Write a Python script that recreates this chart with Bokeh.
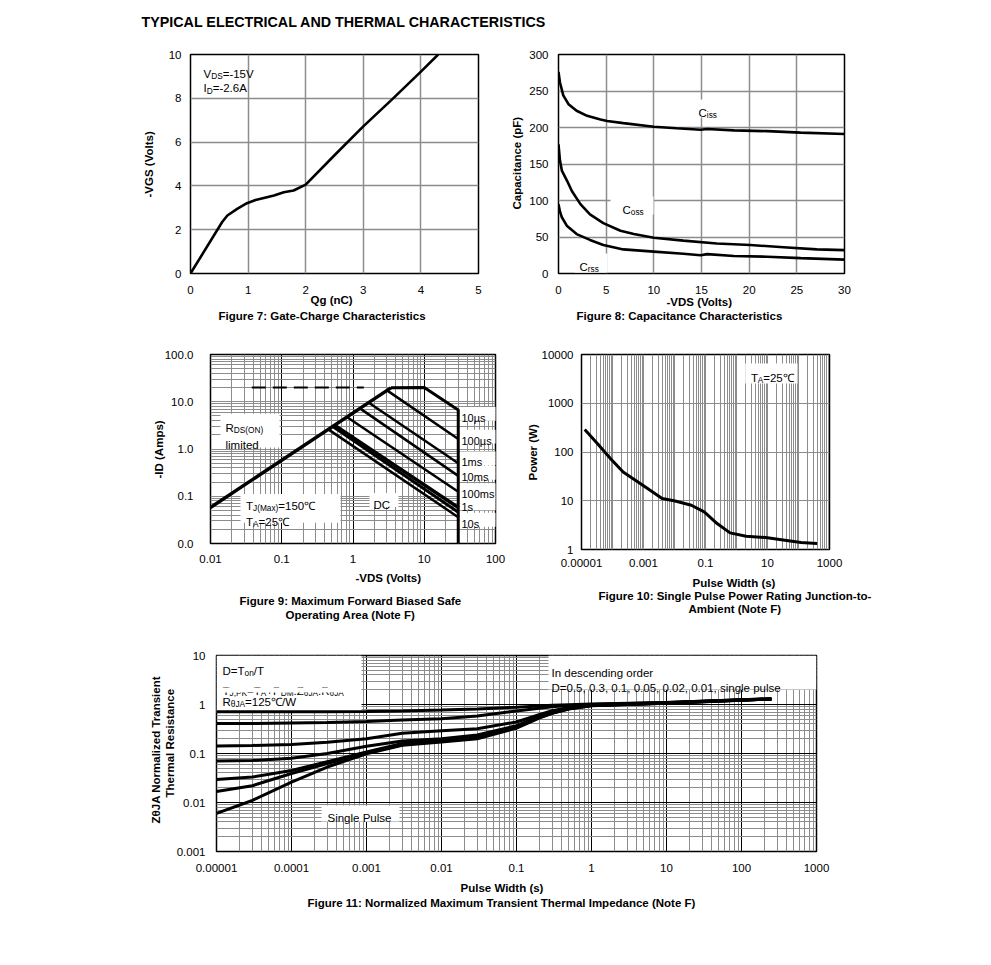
import math
from bokeh.plotting import figure
from bokeh.models import Label, BoxAnnotation, FixedTicker, Range1d, Title
from bokeh.layouts import column, row
from bokeh.embed import file_html
from bokeh.resources import INLINE

FONT = "Liberation Sans"
BASE = 11.5

# ---------------- data ----------------
# Figure 7: gate charge
fig7_qg = [0, 0.55, 0.64, 0.81, 0.98, 1.13, 1.45, 1.62, 1.79, 2.0, 2.5, 3.0, 3.5, 4.0, 4.3]
fig7_vgs = [0, 2.35, 2.65, 2.95, 3.21, 3.36, 3.56, 3.71, 3.79, 4.06, 5.4, 6.72, 7.95, 9.22, 10.0]
fig7_xticks = [0, 1, 2, 3, 4, 5]
fig7_yticks = [0, 2, 4, 6, 8, 10]

# Figure 8: capacitance
ciss_v = [0, 0.15, 0.5, 1.05, 1.9, 3.0, 4.4, 5.1, 6.8, 10, 12.4, 14.9, 15.6, 18.4, 21.9, 25.4, 30]
ciss_c = [276, 262, 244, 232, 223, 216, 211, 209, 206, 201, 199, 197, 198, 196, 195, 193, 191]
coss_v = [0, 0.15, 0.35, 0.9, 1.4, 2.3, 3.3, 4.7, 6.5, 7.9, 10, 13.1, 16.6, 20.1, 23.6, 27.1, 30]
coss_c = [177, 155, 141, 127, 113, 95, 81, 69, 58.5, 54, 49, 45, 41, 39, 36, 33, 32]
crss_v = [0, 0.15, 0.35, 0.9, 1.9, 3.3, 4.7, 6.8, 10, 13.1, 14.9, 15.6, 18.4, 21.9, 25.4, 30]
crss_c = [95, 85, 77, 65, 54, 46, 39, 33, 30, 27, 25, 26.5, 24, 23, 21, 19]
fig8_xticks = [0, 5, 10, 15, 20, 25, 30]
fig8_yticks = [0, 50, 100, 150, 200, 250, 300]

# Figure 9: safe operating area
rds_v = [0.01, 3.4]
rds_i = [0.058, 19.7]
dash_v = [0.038, 1.42]
dash_i = [20, 20]
env_v = [3.4, 10, 30, 30]
env_i = [19.7, 20, 6.7, 0.01]
soa_names = ["100µs", "1ms", "10ms", "100ms", "1s", "10s", "DC"]
soa_v0 = [3.0, 1.65, 1.25, 0.82, 0.55, 0.52, 0.45]
soa_i0 = [17.4, 9.6, 7.25, 4.75, 3.2, 3.0, 2.6]
soa_v1 = [30, 30, 30, 30, 30, 30, 30]
soa_i1 = [1.63, 0.5, 0.27, 0.125, 0.058, 0.046, 0.036]
soa_w = [2.5, 2.5, 2.5, 2.5, 3.5, 3.0, 2.5]
fig9_right_labels = ["10µs", "100µs", "1ms", "10ms", "100ms", "1s", "10s"]
fig9_xlabels = {0.01: "0.01", 0.1: "0.1", 1.0: "1", 10.0: "10", 100.0: "100"}
fig9_ylabels = {0.01: "0.0", 0.1: "0.1", 1.0: "1.0", 10.0: "10.0", 100.0: "100.0"}

# Figure 10: single pulse power
pw_t = [1.27e-5, 3.3e-5, 8.7e-5, 2.2e-4, 9.5e-4, 4e-3, 0.0105, 0.035, 0.091, 0.237, 0.62, 2.05, 8.7, 36.5, 120, 400]
pw_p = [291, 148, 73, 39, 20.8, 11.1, 9.9, 8.1, 5.9, 3.4, 2.19, 1.87, 1.76, 1.55, 1.39, 1.33]
fig10_xlabels = {1e-5: "0.00001", 1e-3: "0.001", 0.1: "0.1", 10.0: "10", 1000.0: "1000"}
fig10_ylabels = {1.0: "1", 10.0: "10", 100.0: "100", 1000.0: "1000", 10000.0: "10000"}

# Figure 11: transient thermal impedance
zt_t = [1e-5, 3e-5, 1e-4, 3e-4, 1e-3, 3e-3, 0.01, 0.03, 0.1, 0.2, 0.3, 0.5, 1, 10, 100, 250]
z_d05 = [0.71, 0.71, 0.71, 0.715, 0.72, 0.735, 0.77, 0.81, 0.88, 0.93, 0.96, 0.99, 1.02, 1.1, 1.25, 1.3]
z_d03 = [0.41, 0.41, 0.42, 0.43, 0.45, 0.48, 0.51, 0.58, 0.74, 0.84, 0.9, 0.95, 1.0, 1.1, 1.25, 1.3]
z_d01 = [0.143, 0.146, 0.152, 0.17, 0.2, 0.26, 0.29, 0.32, 0.44, 0.62, 0.75, 0.87, 0.98, 1.08, 1.24, 1.3]
z_d005 = [0.07, 0.072, 0.08, 0.1, 0.14, 0.18, 0.2, 0.24, 0.37, 0.57, 0.7, 0.84, 0.96, 1.07, 1.23, 1.29]
z_d002 = [0.0295, 0.033, 0.045, 0.068, 0.107, 0.16, 0.186, 0.22, 0.35, 0.55, 0.68, 0.83, 0.95, 1.07, 1.23, 1.29]
z_d001 = [0.0168, 0.022, 0.039, 0.062, 0.104, 0.15, 0.18, 0.215, 0.34, 0.54, 0.67, 0.82, 0.95, 1.06, 1.22, 1.29]
z_single = [0.006, 0.011, 0.026, 0.053, 0.099, 0.147, 0.171, 0.2, 0.33, 0.53, 0.66, 0.81, 0.94, 1.06, 1.22, 1.29]
fig11_xlabels = {1e-5: "0.00001", 1e-4: "0.0001", 1e-3: "0.001", 0.01: "0.01", 0.1: "0.1",
                 1.0: "1", 10.0: "10", 100.0: "100", 1000.0: "1000"}
fig11_ylabels = {1e-3: "0.001", 0.01: "0.01", 0.1: "0.1", 1.0: "1", 10.0: "10"}

# ---------------- helpers ----------------
REG = {}
for chars, w in [(" !,./:;I[]\\ft", 278), ("ijl", 222), ("-()r", 333), ("Jcksvxyz", 500),
                 ("0123456789abdeghnopqu#$?_Lθ", 556), ("+=<>", 584), ("FTZ", 611),
                 ("ABEKPSVXY", 667), ("CDHNRUw", 722), ("GOQ", 778), ("Mm", 833),
                 ("%", 889), ("W", 944), ("µ", 576), ("℃", 1000)]:
    for ch in chars:
        REG[ch] = w
BOLD = {}
for chars, w in [(" ,./Iijl", 278), ("-():;!ft", 333), ("r", 389), ("0123456789aceksvxyJ", 556),
                 ("z", 500), ("+=", 584), ("bdghnopquFLTZθ", 611), ("EPSVXY", 667),
                 ("ABCDHKNRU", 722), ("GOQw", 778), ("M", 833), ("m", 889), ("W", 944), ("℃", 1000)]:
    for ch in chars:
        BOLD[ch] = w

TH_F = 1.117      # text box height / font size
BOT_F = 0.568     # distance from cap centre to text-box bottom / font size


def tw(s, size, bold):
    t = BOLD if bold else REG
    return sum(t.get(c, 556) for c in s) * size / 1000.0


def parse(s):
    segs, i, buf = [], 0, ""
    while i < len(s):
        if s.startswith("_{", i):
            if buf:
                segs.append((buf, False))
                buf = ""
            j = s.index("}", i)
            segs.append((s[i + 2:j], True))
            i = j + 1
        else:
            buf += s[i]
            i += 1
    if buf:
        segs.append((buf, False))
    return segs


class Frame:
    def __init__(self, L, R, T, B, xr, yr, xlog=False, ylog=False):
        self.L, self.R, self.T, self.B = L, R, T, B
        self.xr, self.yr, self.xlog, self.ylog = xr, yr, xlog, ylog

    @staticmethod
    def _c(t, lo, hi, log):
        if log:
            a, b = math.log10(lo), math.log10(hi)
            return 10 ** (a + t * (b - a))
        return lo + t * (hi - lo)

    def dx(self, px):
        return self._c((px - self.L) / (self.R - self.L), self.xr[0], self.xr[1], self.xlog)

    def dy(self, py):
        return self._c((self.B - py) / (self.B - self.T), self.yr[0], self.yr[1], self.ylog)


def rich(p, F, px, py, text, size=BASE, bold=False, align="left"):
    """Text inside the plot frame, with real subscripts."""
    segs = parse(text)
    sub = size * 0.72
    ws = [tw(t, sub if s else size, bold) for t, s in segs]
    tot = sum(ws)
    pos = {"left": 0.0, "center": -tot / 2.0, "right": -tot}[align]
    for (t, s), w in zip(segs, ws):
        fs = sub if s else size
        down = 0.358 * size + (0.2 * size if s else 0.0)
        p.add_layout(Label(x=F.dx(px + pos), y=F.dy(py + down), text=t, text_font=FONT,
                           text_font_size="%.1fpx" % fs,
                           text_font_style="bold" if bold else "normal",
                           text_color="black", text_align="left", text_baseline="alphabetic",
                           level="overlay"))
        pos += w


def mk_title(text, offset, standoff, size, bold):
    return Title(text=text, align="left", offset=int(round(offset)), standoff=int(round(standoff)),
                 vertical_align="bottom", text_font=FONT, text_font_size="%.1fpx" % size,
                 text_font_style="bold" if bold else "normal", text_color="black")


def below_texts(p, F, axis_ext, items, shift=0.0):
    """items: (text, centre x, cap-centre y) in page pixels, stacked below the x axis."""
    edge = F.B + axis_ext
    for text, cx, cy, size, bold in items:
        th = TH_F * size
        w = tw(text, size, bold)
        b = cy + shift + BOT_F * size
        s = max(2 * (b - edge - 2 - th), -(2 + th))
        s = int(round(s))
        p.add_layout(mk_title(text, cx - w / 2 - F.L, s, size, bold), "below")
        edge += 2 + th + s


def left_texts(p, F, axis_ext, items):
    """items: (text, centre y, cap-centre x) in page pixels, stacked left of the y axis."""
    edge = F.L - axis_ext
    for text, cy, cx, size, bold in items:
        th = TH_F * size
        w = tw(text, size, bold)
        xb = cx + BOT_F * size
        s = max(2 * (edge - xb), -(2 + th))
        s = int(round(s))
        p.add_layout(mk_title(text, F.B - (cy + w / 2), s, size, bold), "left")
        edge -= 2 + th + s


def wbox(p, F, x0, y0, x1, y1, level="underlay"):
    p.add_layout(BoxAnnotation(left=F.dx(x0), right=F.dx(x1), top=F.dy(y0), bottom=F.dy(y1),
                               fill_color="white", fill_alpha=1.0, line_color=None, level=level))


def dec(lo, hi):
    return [float("1e%d" % e) for e in range(lo, hi + 1)]


def mins(lo, hi):
    return [float("%de%d" % (m, e)) for e in range(lo, hi) for m in range(2, 10)]


def make_fig(F, ox, oy, W, H, xticks, yticks, xlabels=None, ylabels=None, xstand=10, ystand=10):
    bl = F.L - ox
    bt = F.T - oy
    br = W - bl - (F.R - F.L)
    bb = H - bt - (F.B - F.T)
    p = figure(width=W, height=H, x_range=Range1d(*F.xr), y_range=Range1d(*F.yr),
               x_axis_type="log" if F.xlog else "linear",
               y_axis_type="log" if F.ylog else "linear",
               output_backend="svg", toolbar_location=None, title=None,
               min_border_left=bl, min_border_right=br, min_border_top=bt, min_border_bottom=bb)
    p.outline_line_color = "black"
    p.outline_line_width = 1.5
    p.background_fill_color = "white"
    p.border_fill_color = "white"
    for ax, ticks, labels, st in ((p.xaxis[0], xticks, xlabels, xstand), (p.yaxis[0], yticks, ylabels, ystand)):
        ax.ticker = FixedTicker(ticks=ticks)
        if labels:
            ax.major_label_overrides = labels
        ax.axis_line_color = None
        ax.major_tick_line_color = None
        ax.minor_tick_line_color = None
        ax.major_tick_out = 0
        ax.major_tick_in = 0
        ax.minor_tick_out = 0
        ax.minor_tick_in = 0
        ax.major_label_standoff = st
        ax.major_label_text_font = FONT
        ax.major_label_text_font_size = "%.1fpx" % BASE
        ax.major_label_text_color = "black"
    return p


def set_grid(g, ticks, minor, major_color, minor_color, width=1.0):
    g.ticker = FixedTicker(ticks=ticks, minor_ticks=minor)
    g.grid_line_color = major_color
    g.grid_line_width = width
    g.minor_grid_line_color = minor_color
    g.minor_grid_line_width = width


GRAY = "#8c8c8c"
XH = TH_F * BASE   # height of a row of x tick labels

# ---------------- page title ----------------
page_title = "TYPICAL ELECTRICAL AND THERMAL CHARACTERISTICS"
t_size = 14.3
t_s = 2 * (21.5 + BOT_F * t_size - 2 - TH_F * t_size)
pt = figure(width=880, height=45, x_range=Range1d(0, 1), y_range=Range1d(0, 1),
            output_backend="svg", toolbar_location=None,
            title=mk_title(page_title, 141, t_s, t_size, True),
            min_border_left=0, min_border_right=0, min_border_top=0, min_border_bottom=0)
pt.xaxis.visible = False
pt.yaxis.visible = False
pt.grid.visible = False
pt.outline_line_color = None

# ---------------- Figure 7 ----------------
F7 = Frame(190, 478, 53, 273, (0, 5), (0, 10))
p7 = make_fig(F7, 0, 45, 498, 290, fig7_xticks, fig7_yticks, xstand=12, ystand=9)
set_grid(p7.xgrid[0], fig7_xticks, [], GRAY, None, 1.5)
set_grid(p7.ygrid[0], fig7_yticks, [], GRAY, None, 1.5)
p7.line(fig7_qg, fig7_vgs, line_color="black", line_width=2.6)
rich(p7, F7, 203, 68, "V_{DS}=-15V")
rich(p7, F7, 203, 83, "I_{D}=-2.6A")
below_texts(p7, F7, 12 + XH, [("Qg (nC)", 331, 299, BASE, True),
                              ("Figure 7: Gate-Charge Characteristics", 322, 316, BASE, True)], shift=2.5)
left_texts(p7, F7, 9 + tw("10", BASE, False), [("-VGS (Volts)", 163, 151, BASE, True)])

# ---------------- Figure 8 ----------------
F8 = Frame(558, 844, 54, 273, (0, 30), (0, 300))
p8 = make_fig(F8, 498, 45, 386, 290, fig8_xticks, fig8_yticks, xstand=12, ystand=10)
set_grid(p8.xgrid[0], fig8_xticks, [], GRAY, None, 1.5)
set_grid(p8.ygrid[0], fig8_yticks, [], GRAY, None, 1.5)
wbox(p8, F8, 693, 99, 724, 117)
wbox(p8, F8, 610, 196, 653, 214)
wbox(p8, F8, 574, 253, 607, 272)
p8.line(ciss_v, ciss_c, line_color="black", line_width=2.6)
p8.line(coss_v, coss_c, line_color="black", line_width=2.6)
p8.line(crss_v, crss_c, line_color="black", line_width=2.6)
rich(p8, F8, 698, 108, "C_{iss}")
rich(p8, F8, 622, 205, "C_{oss}")
rich(p8, F8, 579, 262, "C_{rss}")
below_texts(p8, F8, 12 + XH, [("-VDS (Volts)", 699, 300.5, BASE, True),
                              ("Figure 8: Capacitance Characteristics", 679, 316, BASE, True)], shift=2.5)
left_texts(p8, F8, 10 + tw("300", BASE, False), [("Capacitance (pF)", 163, 519, BASE, True)])

# ---------------- Figure 9 ----------------
F9 = Frame(210, 495, 354, 545, (0.01, 100), (0.01, 100), True, True)
p9 = make_fig(F9, 0, 335, 525, 300, dec(-2, 2), dec(-2, 2), fig9_xlabels, fig9_ylabels, xstand=11, ystand=17)
set_grid(p9.xgrid[0], dec(-2, 2), mins(-2, 2), "black", GRAY, 1.0)
set_grid(p9.ygrid[0], dec(-2, 2), mins(-2, 2), GRAY, GRAY, 1.0)
wbox(p9, F9, 220, 414, 279, 448)
wbox(p9, F9, 240, 495, 340, 524)
wbox(p9, F9, 369, 494, 398, 508)
right_y = [414, 437, 459, 473.5, 491, 504.5, 521]
for name, yy in zip(fig9_right_labels, right_y):
    wbox(p9, F9, 459, yy - 7, 496, yy + 7)
p9.line(rds_v, rds_i, line_color="black", line_width=3.5)
p9.line(dash_v, dash_i, line_color="black", line_width=2, line_dash="14 7")
p9.line(env_v, env_i, line_color="black", line_width=3)
for v0, i0, v1, i1, w in zip(soa_v0, soa_i0, soa_v1, soa_i1, soa_w):
    p9.line([v0, v1], [i0, i1], line_color="black", line_width=w)
rich(p9, F9, 225, 424, "R_{DS(ON)}")
rich(p9, F9, 225, 441.5, "limited")
rich(p9, F9, 245.5, 503, "T_{J(Max)}=150℃")
rich(p9, F9, 245.5, 519, "T_{A}=25℃")
rich(p9, F9, 373, 501.5, "DC")
for name, yy in zip(fig9_right_labels, right_y):
    rich(p9, F9, 461, yy, name, size=11.0)
below_texts(p9, F9, 11 + XH, [("-VDS (Volts)", 388, 579, BASE, True),
                              ("Figure 9: Maximum Forward Biased Safe", 350, 603, BASE, True),
                              ("Operating Area (Note F)", 350, 618, BASE, True)], shift=2.5)
left_texts(p9, F9, 17 + tw("100.0", BASE, False), [("-ID (Amps)", 451, 161, BASE, True)])

# ---------------- Figure 10 ----------------
F10 = Frame(573, 829, 354, 549, (1e-5, 1000), (1, 10000), True, True)
p10 = make_fig(F10, 525, 335, 354, 306, [1e-5, 1e-3, 0.1, 10.0, 1000.0], dec(0, 4),
               fig10_xlabels, fig10_ylabels, xstand=9, ystand=8)
set_grid(p10.xgrid[0], dec(-5, 3), mins(-5, 3), GRAY, GRAY, 1.0)
set_grid(p10.ygrid[0], dec(0, 4), [], GRAY, None, 1.0)
wbox(p10, F10, 742, 363, 796, 383)
p10.line(pw_t, pw_p, line_color="black", line_width=3)
rich(p10, F10, 748, 373, "T_{A}=25℃")
below_texts(p10, F10, 9 + XH, [("Pulse Width (s)", 726, 583.5, BASE, True),
                               ("Figure 10: Single Pulse Power Rating Junction-to-", 726, 597, BASE, True),
                               ("Ambient (Note F)", 726, 611.5, BASE, True)], shift=1.0)
left_texts(p10, F10, 8 + tw("10000", BASE, False), [("Power (W)", 452, 527, BASE, True)])

# ---------------- Figure 11 ----------------
F11 = Frame(216, 816, 655, 851, (1e-5, 1000), (1e-3, 10), True, True)
p11 = make_fig(F11, 0, 641, 846, 274, dec(-5, 3), dec(-3, 1), fig11_xlabels, fig11_ylabels,
               xstand=12, ystand=11)
set_grid(p11.xgrid[0], dec(-5, 3), mins(-5, 3), "black", GRAY, 1.0)
set_grid(p11.ygrid[0], dec(-3, 1), mins(-3, 1), "black", GRAY, 1.0)
wbox(p11, F11, 216, 655, 361, 712)
wbox(p11, F11, 548, 655, 816, 689)
wbox(p11, F11, 321, 805, 399, 821)
for zs in (z_d05, z_d03, z_d01, z_d005, z_d002, z_d001, z_single):
    p11.line(zt_t, zs, line_color="black", line_width=3)
rich(p11, F11, 222, 666, "D=T_{on}/T")
rich(p11, F11, 222, 686, "T_{J,PK}=T_{A}+P_{DM}.Z_{θJA}.R_{θJA}")
wbox(p11, F11, 218, 687, 360, 692, level="overlay")
rich(p11, F11, 222, 697.5, "R_{θJA}=125℃/W")
rich(p11, F11, 551, 668, "In descending order")
rich(p11, F11, 551, 683, "D=0.5, 0.3, 0.1, 0.05, 0.02, 0.01, single pulse")
rich(p11, F11, 327, 813, "Single Pulse")
below_texts(p11, F11, 12 + XH, [("Pulse Width (s)", 502, 887.5, BASE, True),
                                ("Figure 11: Normalized Maximum Transient Thermal Impedance (Note F)",
                                 502, 903, BASE, True)], shift=2.0)
left_texts(p11, F11, 11 + tw("0.001", BASE, False), [("Thermal Resistance", 743, 172, BASE, True),
                                                     ("ZθJA Normalized Transient", 749, 157, BASE, True)])

layout = column(row(pt), row(p7, p8), row(p9, p10), row(p11))
open("out.html", "w").write(file_html(layout, INLINE))
